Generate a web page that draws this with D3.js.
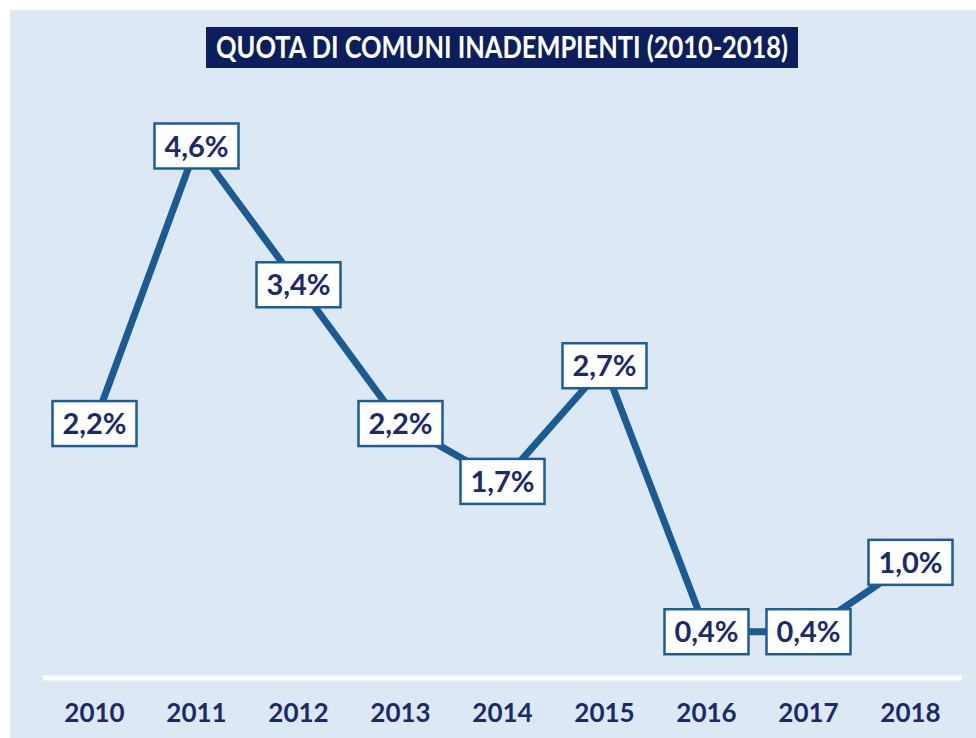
<!DOCTYPE html>
<html>
<head>
<meta charset="utf-8">
<script src="https://cdn.jsdelivr.net/npm/d3@7"></script>
<style>
  body { margin: 0; background: #ffffff; }
  svg { display: block; }
</style>
</head>
<body>
<div id="chart"></div>
<script>
// Data
const years = ["2010", "2011", "2012", "2013", "2014", "2015", "2016", "2017", "2018"];
const values = [2.2, 4.6, 3.4, 2.2, 1.7, 2.7, 0.4, 0.4, 1.0];
const labels = ["2,2%", "4,6%", "3,4%", "2,2%", "1,7%", "2,7%", "0,4%", "0,4%", "1,0%"];
const title = "QUOTA DI COMUNI INADEMPIENTI (2010-2018)";

const width = 976, height = 738;
const navy = "#1b2b69";
const lineBlue = "#1a5b94";

const svg = d3.select("#chart")
  .append("svg")
  .attr("width", width)
  .attr("height", height);

// background panel
svg.append("rect")
  .attr("x", 10)
  .attr("y", 10)
  .attr("width", width - 10)
  .attr("height", height - 10)
  .attr("fill", "#dde8f5");

// title
svg.append("rect")
  .attr("x", 206)
  .attr("y", 27)
  .attr("width", 592)
  .attr("height", 41)
  .attr("fill", "#0c1f5c");

svg.append("text")
  .attr("x", 216)
  .attr("y", 58)
  .attr("textLength", 572)
  .attr("lengthAdjust", "spacingAndGlyphs")
  .style("font-family", "Lato, sans-serif")
  .style("font-weight", "bold")
  .style("font-size", "30px")
  .attr("fill", "#ffffff")
  .text(title);

// scales
const x = d3.scalePoint()
  .domain(years)
  .range([94.5, 910.5]);

const y = d3.scaleLinear()
  .domain([0, 4.6])
  .range([678, 146]);

// axis line
svg.append("line")
  .attr("x1", 43)
  .attr("x2", 962)
  .attr("y1", y(0))
  .attr("y2", y(0))
  .attr("stroke", "#ffffff")
  .attr("stroke-width", 5);

// year labels
svg.append("g")
  .selectAll("text")
  .data(years)
  .enter().append("text")
  .attr("x", d => x(d))
  .attr("y", 722)
  .attr("text-anchor", "middle")
  .style("font-family", "Lato, sans-serif")
  .style("font-weight", "bold")
  .style("font-size", "26px")
  .attr("fill", navy)
  .text(d => d);

// line
const line = d3.line()
  .x((d, i) => x(years[i]))
  .y(d => y(d));

svg.append("path")
  .datum(values)
  .attr("d", line)
  .attr("fill", "none")
  .attr("stroke", lineBlue)
  .attr("stroke-width", 7)
  .attr("stroke-linejoin", "round");

// value boxes
const boxW = 84, boxH = 45;
const boxes = svg.append("g")
  .selectAll("g")
  .data(values)
  .enter().append("g")
  .attr("transform", (d, i) => `translate(${x(years[i])},${y(d)})`);

boxes.append("rect")
  .attr("x", -boxW / 2)
  .attr("y", -boxH / 2)
  .attr("width", boxW)
  .attr("height", boxH)
  .attr("fill", "#ffffff")
  .attr("stroke", "#1e5c96")
  .attr("stroke-width", 2.5);

boxes.append("text")
  .attr("text-anchor", "middle")
  .attr("y", 10.5)
  .style("font-family", "Lato, sans-serif")
  .style("font-weight", "bold")
  .style("font-size", "29px")
  .attr("fill", navy)
  .text((d, i) => labels[i]);
</script>
</body>
</html>
